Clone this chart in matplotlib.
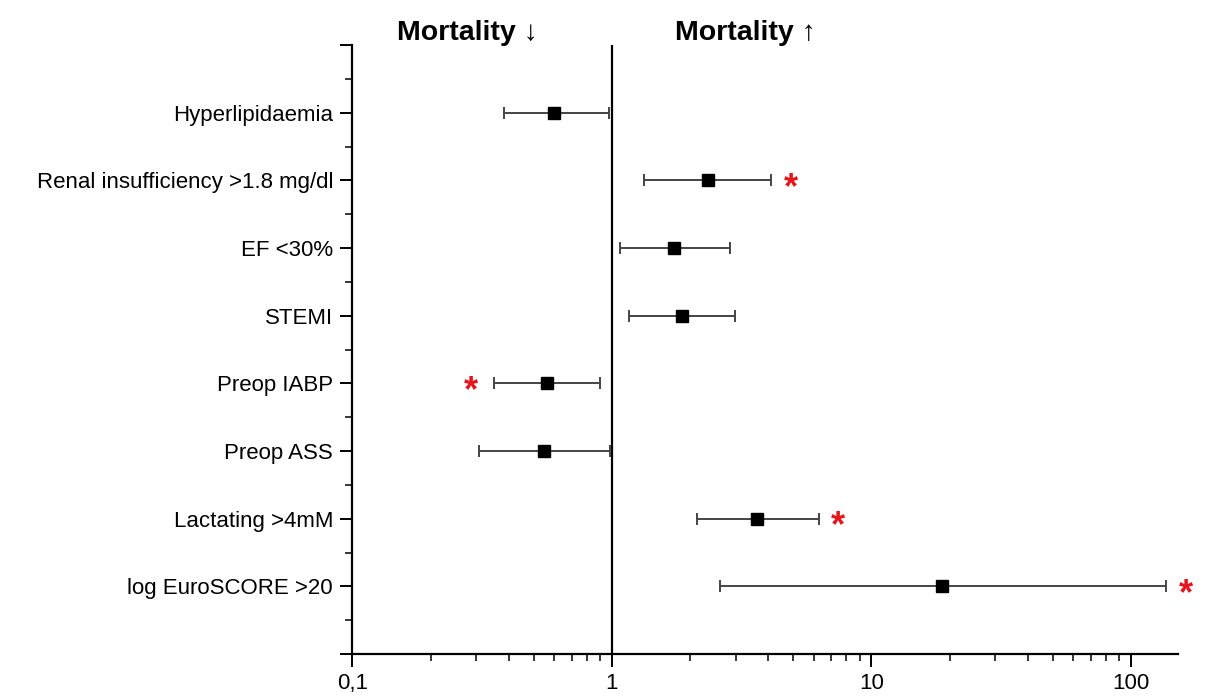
import matplotlib.pyplot as plt
import numpy as np
from matplotlib.ticker import FixedLocator, LogLocator, NullFormatter

# data (odds ratio with 95% CI), top to bottom
labels = [
    "Hyperlipidaemia",
    "Renal insufficiency >1.8 mg/dl",
    "EF <30%",
    "STEMI",
    "Preop IABP",
    "Preop ASS",
    "Lactating >4mM",
    "log EuroSCORE >20",
]
odds = [0.60, 2.34, 1.73, 1.86, 0.56, 0.547, 3.63, 18.7]
ci_low = [0.384, 1.33, 1.07, 1.16, 0.35, 0.307, 2.12, 2.62]
ci_high = [0.97, 4.12, 2.84, 2.97, 0.90, 0.98, 6.27, 137.0]
# significance star: "" none, "right" after upper CI, "left" before lower CI
star_side = ["", "right", "", "", "left", "", "right", "right"]

x_ticks = [0.1, 1, 10, 100]
x_ticklabels = ["0,1", "1", "10", "100"]

FONT = ["Liberation Sans", "DejaVu Sans"]
plt.rcParams["font.family"] = FONT

fig = plt.figure(figsize=(12.08, 6.97), dpi=100)
ax = fig.add_axes([0.2918, 0.0617, 0.6834, 0.8737])

n = len(labels)
ypos = np.arange(n, 0, -1)

odds_a = np.array(odds)
err = np.vstack([odds_a - np.array(ci_low), np.array(ci_high) - odds_a])

ax.errorbar(
    odds_a, ypos, xerr=err, fmt="none",
    ecolor="#444444", elinewidth=1.4, capsize=4.5, capthick=1.4, zorder=2,
)
ax.plot(odds_a, ypos, "s", color="black", markersize=8.5, zorder=3)

for y, lo, hi, side in zip(ypos, ci_low, ci_high, star_side):
    if not side:
        continue
    if side == "right":
        xy, dx = (hi, y), 14
    else:
        xy, dx = (lo, y), -16
    ax.annotate(
        "*", xy=xy, xytext=(dx, -6), textcoords="offset points",
        ha="center", va="center", color="#e8141b", fontsize=26, fontweight="bold",
    )

ax.axvline(1, color="black", linewidth=1.6, zorder=1)

ax.set_xscale("log")
ax.set_xlim(0.1, 152)
ax.set_ylim(0, n + 1)

ax.xaxis.set_major_locator(FixedLocator(x_ticks))
ax.set_xticklabels(x_ticklabels)
ax.xaxis.set_minor_locator(LogLocator(base=10, subs=np.arange(2, 10)))
ax.xaxis.set_minor_formatter(NullFormatter())

ax.set_yticks(np.arange(0, n + 2))
ax.set_yticklabels([""] + labels[::-1] + [""])
ax.set_yticks(np.arange(0.5, n + 1, 1), minor=True)

for side in ("top", "right"):
    ax.spines[side].set_visible(False)
for side in ("left", "bottom"):
    ax.spines[side].set_linewidth(1.6)

ax.tick_params(axis="both", which="major", direction="out", length=9, width=1.4)
ax.tick_params(axis="both", which="minor", direction="out", length=5, width=1.1)
ax.tick_params(axis="y", which="major", labelsize=16, pad=5)
ax.tick_params(axis="x", which="major", labelsize=16, pad=5)

fig.text(467 / 1208, 1 - 33 / 697, "Mortality \u2193", ha="center", va="center",
         fontsize=20.5, fontweight="bold", family=FONT)
fig.text(745 / 1208, 1 - 33 / 697, "Mortality \u2191", ha="center", va="center",
         fontsize=20.5, fontweight="bold", family=FONT)

fig.savefig("out.png", dpi=100, facecolor="white")
